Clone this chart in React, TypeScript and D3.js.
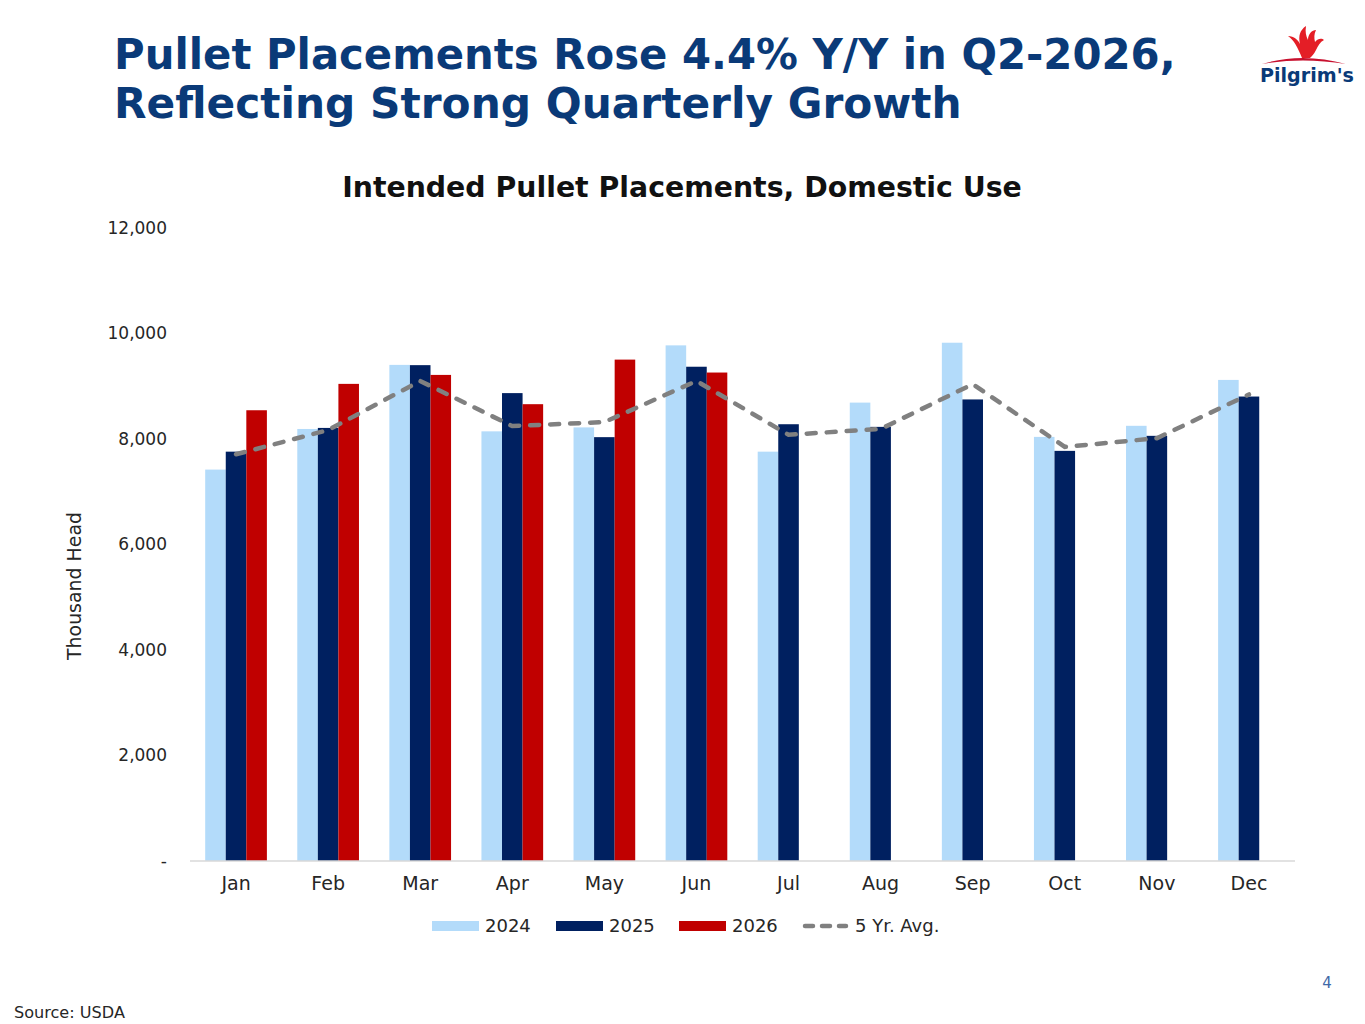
import * as d3 from 'd3';
import { useEffect, useRef } from 'react';

const months = ['Jan', 'Feb', 'Mar', 'Apr', 'May', 'Jun', 'Jul', 'Aug', 'Sep', 'Oct', 'Nov', 'Dec'];
const seriesKeys = ['2024', '2025', '2026'];
const values2024 = [7420, 8190, 9405, 8145, 8220, 9775, 7760, 8690, 9825, 8040, 8250, 9120];
const values2025 = [7760, 8210, 9400, 8870, 8035, 9370, 8280, 8230, 8750, 7775, 8060, 8805];
const values2026 = [8545, 9045, 9215, 8660, 9505, 9260];
const fiveYearAvg = [7710, 8170, 9100, 8245, 8320, 9100, 8080, 8190, 9040, 7850, 8015, 8845];
const yTicks = [0, 2000, 4000, 6000, 8000, 10000, 12000];

const colors: Record<string, string> = {
  '2024': '#B3DBFA',
  '2025': '#002060',
  '2026': '#C00000',
};
const avgColor = '#808080';
const navy = '#0A3A78';
const font = "'DejaVu Sans', sans-serif";

// scale a text's font size so it spans the given width
function fitWidth(t: d3.Selection<SVGTextElement, unknown, null, undefined>, width: number) {
  const node = t.node();
  if (!node) return;
  const len = node.getComputedTextLength();
  if (len > 0) t.attr('font-size', (+t.attr('font-size') * width) / len);
}

export default function App() {
  const svgRef = useRef<SVGSVGElement>(null);

  useEffect(() => {
    if (!svgRef.current) return;
    const svg = d3.select(svgRef.current);
    svg.selectAll('*').remove();

    const plot = { left: 190, right: 1295, top: 228, bottom: 861 };

    const x0 = d3
      .scaleBand()
      .domain(months)
      .range([plot.left, plot.right])
      .paddingInner(0.33)
      .paddingOuter(0.165);
    const x1 = d3.scaleBand().domain(seriesKeys).range([0, x0.bandwidth()]);
    const y = d3.scaleLinear().domain([0, 12000]).range([plot.bottom, plot.top]);

    const series: Record<string, number[]> = {
      '2024': values2024,
      '2025': values2025,
      '2026': values2026,
    };

    // Title
    const title = svg.append('g').attr('font-family', font).attr('font-weight', 700).attr('fill', navy);
    const t1 = title.append('text').attr('x', 114).attr('y', 69).attr('font-size', 40).text('Pullet Placements Rose 4.4% Y/Y in Q2-2026,');
    const t2 = title.append('text').attr('x', 114).attr('y', 118).attr('font-size', 40).text('Reflecting Strong Quarterly Growth');
    fitWidth(t1, 1062);
    fitWidth(t2, 848);

    const chartTitle = svg
      .append('text')
      .attr('x', 682)
      .attr('y', 197)
      .attr('text-anchor', 'middle')
      .attr('font-family', font)
      .attr('font-weight', 700)
      .attr('font-size', 26)
      .attr('fill', '#111')
      .text('Intended Pullet Placements, Domestic Use');
    fitWidth(chartTitle, 680);

    // Bars
    const groups = svg
      .append('g')
      .selectAll('g')
      .data(months)
      .join('g')
      .attr('transform', (m) => `translate(${x0(m)},0)`);

    groups
      .selectAll('rect')
      .data((m, i) =>
        seriesKeys
          .filter((k) => series[k][i] !== undefined)
          .map((k) => ({ key: k, value: series[k][i] }))
      )
      .join('rect')
      .attr('x', (d) => x1(d.key) ?? 0)
      .attr('width', x1.bandwidth())
      .attr('y', (d) => y(d.value))
      .attr('height', (d) => y(0) - y(d.value))
      .attr('fill', (d) => colors[d.key]);

    // Baseline
    svg
      .append('line')
      .attr('x1', plot.left)
      .attr('x2', plot.right)
      .attr('y1', y(0))
      .attr('y2', y(0))
      .attr('stroke', '#D9D9D9')
      .attr('stroke-width', 1.5);

    // 5 yr avg line
    const line = d3
      .line<number>()
      .x((_, i) => (x0(months[i]) ?? 0) + x0.bandwidth() / 2)
      .y((d) => y(d));
    svg
      .append('path')
      .datum(fiveYearAvg)
      .attr('d', line)
      .attr('fill', 'none')
      .attr('stroke', avgColor)
      .attr('stroke-width', 4.5)
      .attr('stroke-dasharray', '9 11')
      .attr('stroke-linecap', 'round');

    // Y axis labels
    const yAxis = svg
      .append('g')
      .attr('transform', `translate(${plot.left},0)`)
      .call(
        d3
          .axisLeft(y)
          .tickValues(yTicks)
          .tickSize(0)
          .tickPadding(23)
          .tickFormat((d) => (+d === 0 ? '-' : d3.format(',')(+d)))
      );
    yAxis.select('.domain').remove();
    yAxis.selectAll('.tick text').attr('font-family', font).attr('font-size', 17).attr('fill', '#262626');

    // X axis labels
    const xAxis = svg
      .append('g')
      .attr('transform', `translate(0,${plot.bottom})`)
      .call(d3.axisBottom(x0).tickSize(0).tickPadding(16));
    xAxis.select('.domain').remove();
    xAxis.selectAll('.tick text').attr('font-family', font).attr('font-size', 19).attr('fill', '#262626');

    // Y axis title
    const yTitle = svg
      .append('text')
      .attr('transform', 'translate(81,586) rotate(-90)')
      .attr('text-anchor', 'middle')
      .attr('font-family', font)
      .attr('font-size', 18)
      .attr('fill', '#262626')
      .text('Thousand Head');
    fitWidth(yTitle, 148);

    // Legend
    const legendItems = [
      { label: '2024', x: 432, type: 'rect', color: colors['2024'] },
      { label: '2025', x: 556, type: 'rect', color: colors['2025'] },
      { label: '2026', x: 679, type: 'rect', color: colors['2026'] },
      { label: '5 Yr. Avg.', x: 802, type: 'line', color: avgColor },
    ];
    const legend = svg.append('g').attr('font-family', font).attr('font-size', 18).attr('fill', '#262626');
    legendItems.forEach((it) => {
      if (it.type === 'rect') {
        legend.append('rect').attr('x', it.x).attr('y', 921).attr('width', 47).attr('height', 10).attr('fill', it.color);
      } else {
        legend
          .append('line')
          .attr('x1', it.x + 3)
          .attr('x2', it.x + 44)
          .attr('y1', 926)
          .attr('y2', 926)
          .attr('stroke', it.color)
          .attr('stroke-width', 4.5)
          .attr('stroke-dasharray', '8 9')
          .attr('stroke-linecap', 'round');
      }
      legend.append('text').attr('x', it.x + 53).attr('y', 932).text(it.label);
    });

    // Footer
    const source = svg.append('text').attr('x', 14).attr('y', 1018).attr('font-family', font).attr('font-size', 15).attr('fill', '#262626').text('Source: USDA');
    fitWidth(source, 111);
    svg.append('text').attr('x', 1327).attr('y', 988).attr('text-anchor', 'middle').attr('font-family', font).attr('font-size', 15).attr('fill', '#3F6AA8').text('4');

    // Logo
    const logo = svg.append('g').attr('transform', 'translate(1258,24)');
    logo
      .append('path')
      .attr('d', 'M44,34 C40,24 36,16 30,12 C36,12 40,16 42,20 C40,12 42,6 48,2 C47,8 48,12 50,16 C50,10 54,6 58,6 C56,10 56,14 57,18 C60,14 64,14 66,16 C62,18 60,22 58,26 C56,30 54,32 52,34 Z')
      .attr('fill', '#E41E26');
    logo
      .append('path')
      .attr('d', 'M4,40 Q44,28 88,40 Q44,33 4,40 Z')
      .attr('fill', '#C8102E');
    const logoText = logo
      .append('text')
      .attr('x', 2)
      .attr('y', 58)
      .attr('font-family', font)
      .attr('font-weight', 700)
      .attr('font-size', 20)
      .attr('fill', '#0A3A78')
      .text("Pilgrim's");
    fitWidth(logoText, 94);
  }, []);

  return (
    <svg
      ref={svgRef}
      width={1365}
      height={1024}
      style={{ position: 'absolute', left: 0, top: 0, background: '#fff' }}
    />
  );
}
